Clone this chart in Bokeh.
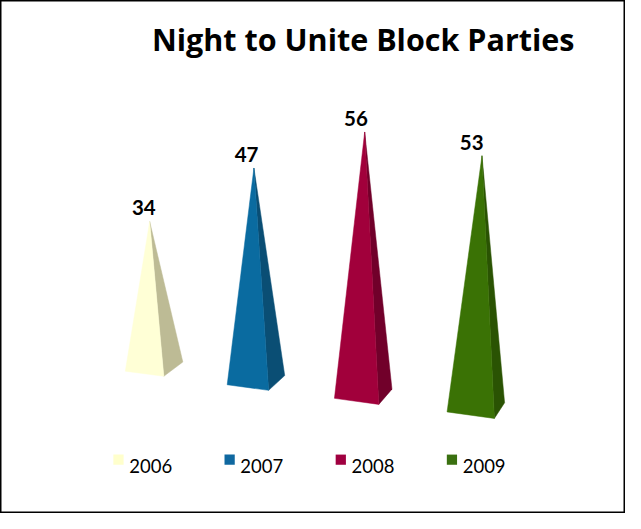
from bokeh.plotting import figure
from bokeh.models import Range1d
from bokeh.core.properties import value
from bokeh.embed import file_html
from bokeh.resources import INLINE

# ---- data ----
years = ["2006", "2007", "2008", "2009"]
parties = [34, 47, 56, 53]
title_text = "Night to Unite Block Parties"

# ---- styles ----
front_colors = ["#FFFFD6", "#0A6BA0", "#A1003B", "#3A7205"]
side_colors = ["#BDBB95", "#0A4E74", "#71002A", "#2A5303"]
legend_colors = ["#FFFFCC", "#0F68A0", "#A00040", "#3A7010"]
FONT = "Lato"

W, H = 625, 513          # figure size in page pixels
RW, RH = 641, 529        # layout units (drawn chart coordinates)
p = figure(width=W, height=H, output_backend="svg", toolbar_location=None,
           x_range=Range1d(0, RW), y_range=Range1d(RH, 0),
           min_border=0, background_fill_color="white", border_fill_color="white")
p.axis.visible = False
p.grid.visible = False
p.outline_line_color = "black"
p.outline_line_width = 2

# pseudo-3D perspective layout: category index -> base centre, height scale
fx, fy, sx, sy = [], [], [], []
lx, ly, lt = [], [], []
for i, (yr, v) in enumerate(zip(years, parties)):
    cx = 157.5 + 104.5 * i + 2.75 * i * (i - 1)
    cy = 377.5 + 14 * i
    k = 4.40 + 0.30 * i - 0.045 * i * i
    ax = cx - 4.5 + 1.8 * i + 0.6 * i * i
    ay = cy - v * k
    fl = (cx - 29.5, cy + 4.75)
    fr = (cx + 10 + 3 * i, cy + 10 + 0.5 * i)
    rb = (cx + 29.5, cy - 4.75)
    fx.append([fl[0], fr[0], ax]); fy.append([fl[1], fr[1], ay])
    sx.append([fr[0], rb[0], ax]); sy.append([fr[1], rb[1], ay])
    lx.append(ax - 6 - 1.5 * i); ly.append(ay - 14); lt.append(str(v))

p.patches(xs=sx, ys=sy, fill_color=side_colors, line_color=side_colors, line_width=0.5)
p.patches(xs=fx, ys=fy, fill_color=front_colors, line_color=front_colors, line_width=0.5)

p.text(x=lx, y=ly, text=lt, text_align="center", text_baseline="alphabetic",
       text_font=value(FONT), text_font_style="bold", text_font_size="20.5px",
       text_color="black")

p.text(x=[372], y=[40], text=[title_text], text_align="center", text_baseline="alphabetic",
       text_font=value("Open Sans"), text_font_style="bold", text_font_size="30.5px",
       text_color="black")

# legend
gx = [121 + 114 * i for i in range(len(years))]
gy = [473.5] * len(years)
p.rect(x=gx, y=gy, width=10.5, height=10.5, fill_color=legend_colors, line_color=None)
p.text(x=[g + 11 for g in gx], y=[480.5] * len(years), text=years, text_align="left",
       text_baseline="alphabetic", text_font=value(FONT), text_font_size="18.5px",
       text_color="black")

open("out.html", "w").write(file_html(p, INLINE))
